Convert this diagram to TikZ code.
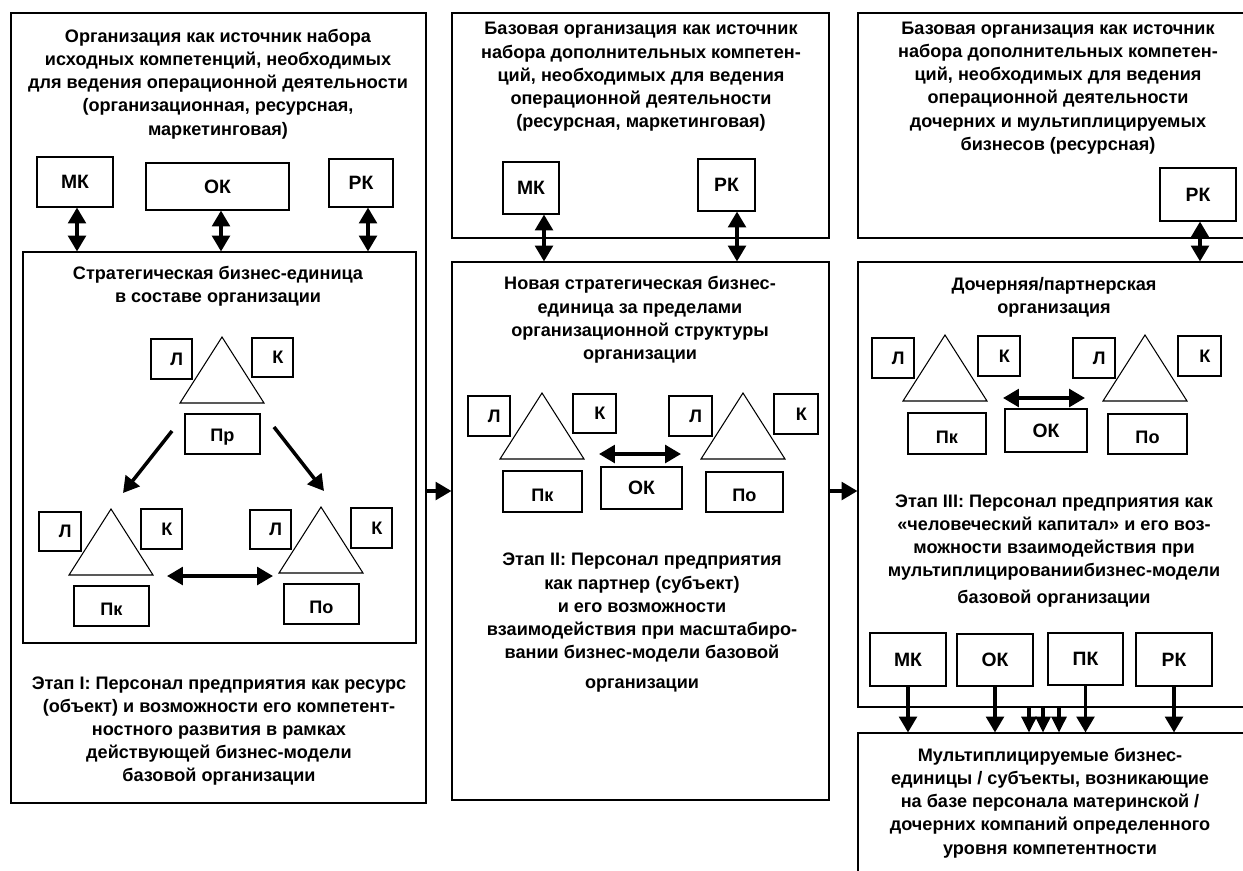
\documentclass[tikz,border=0pt]{standalone}
\usepackage{fontspec}
\setmainfont{Liberation Sans}
\usetikzlibrary{arrows.meta,fit}

\newcommand{\txt}{\bfseries\fontsize{10.3}{13.2}\selectfont}
\newcommand{\kfont}{\bfseries\fontsize{11}{13}\selectfont}

\tikzset{
  box/.style={draw, line width=0.6pt, inner sep=0pt},
  kbox/.style={box, label={[font=\kfont]center:#1}},
  sq/.style={box, label={[font=\txt, xshift=3pt]center:#1}},
  pbox/.style={box, label={[font=\txt, yshift=-2pt]center:#1}},
  lbl/.style={align=center, font=\txt, inner sep=0pt},
  tri/.style={line width=0.6pt},
  dbl/.style={{Triangle[width=10pt,length=9pt]}-{Triangle[width=10pt,length=9pt]}, line width=2pt},
  go/.style={-{Triangle[width=10pt,length=9pt]}, line width=2pt},
  gosm/.style={-{Triangle[width=8.5pt,length=9pt]}, line width=1.8pt},
}

\begin{document}
\begin{tikzpicture}[x=0.02cm, y=-0.02cm]
    \clip (0,0) rectangle (1243,870);
    \coordinate (lvl) at (0,491);

    % column 1
    \node[box, fit={(11,13) (426,803)}] (org) {};
    \node[lbl] (orgtxt) at (218,84) {Организация как источник набора\\исходных компетенций, необходимых\\для ведения операционной деятельности\\(организационная, ресурсная,\\маркетинговая)};
    \node[kbox=МК, fit={(37,157) (113,207)}] (mk1) {};
    \node[kbox=ОК, fit={(146,163) (289,210)}] (ok1) {};
    \node[kbox=РК, fit={(329,159) (393,207)}] (rk1) {};
    \node[box, fit={(23,252) (416,643)}] (sbu) {};
    \node[lbl] (sbutxt) at (218,286) {Стратегическая бизнес-единица\\в составе организации};
    \node[sq=Л, fit={(151,339) (192,379)}] (l1a) {};
    \node[sq=К, fit={(252,338) (293,377)}] (k1a) {};
    \node[pbox=Пр, fit={(185,414) (260,454)}] (p1a) {};
    \node[sq=Л, fit={(39,512) (81,551)}] (l1b) {};
    \node[sq=К, fit={(141,509) (182,549)}] (k1b) {};
    \node[pbox=Пк, fit={(74,586) (149,626)}] (p1b) {};
    \node[sq=Л, fit={(250,510) (291,549)}] (l1c) {};
    \node[sq=К, fit={(351,508) (392,548)}] (k1c) {};
    \node[pbox=По, fit={(284,584) (359,624)}] (p1c) {};
    \node[lbl] (st1) at (219,731) {Этап I: Персонал предприятия как ресурс\\(объект) и возможности его компетент-\\ностного развития в рамках\\действующей бизнес-модели\\базовой организации};

    % column 2
    \node[box, fit={(452,13) (829,238)}] (base2) {};
    \node[lbl] (base2txt) at (641,77) {Базовая организация как источник\\набора дополнительных компетен-\\ций, необходимых для ведения\\операционной деятельности\\(ресурсная, маркетинговая)};
    \node[kbox=МК, fit={(503,162) (559,214)}] (mk2) {};
    \node[kbox=РК, fit={(698,159) (755,211)}] (rk2) {};
    \node[box, fit={(452,262) (829,800)}] (nsbu) {};
    \node[lbl] (nsbutxt) at (640,320) {Новая стратегическая бизнес-\\единица за пределами\\организационной структуры\\организации};
    \node[sq=Л, fit={(468,396) (510,436)}] (l2a) {};
    \node[sq=К, fit={(573,394) (616,433)}] (k2a) {};
    \node[pbox=Пк, fit={(503,471) (582,512)}] (p2a) {};
    \node[kbox=ОК, fit={(601,467) (682,509)}] (ok2) {};
    \node[sq=Л, fit={(669,396) (712,436)}] (l2b) {};
    \node[sq=К, fit={(774,394) (818,434)}] (k2b) {};
    \node[pbox=По, fit={(706,472) (783,512)}] (p2b) {};
    \node[lbl] (st2) at (642,623) {Этап II: Персонал предприятия\\как партнер (субъект)\\и его возможности\\взаимодействия при масштабиро-\\вании бизнес-модели базовой\\[4pt]организации};

    % column 3
    \node[box, fit={(858,13) (1290,238)}] (base3) {};
    \node[lbl] (base3txt) at (1058,88) {Базовая организация как источник\\набора дополнительных компетен-\\ций, необходимых для ведения\\операционной деятельности\\дочерних и мультиплицируемых\\бизнесов (ресурсная)};
    \node[kbox=РК, fit={(1160,168) (1236,221)}] (rk3) {};
    \node[box, fit={(858,262) (1290,707)}] (dch) {};
    \node[lbl] (dchtxt) at (1054,297) {Дочерняя/партнерская\\организация};
    \node[sq=Л, fit={(872,338) (914,378)}] (l3a) {};
    \node[sq=К, fit={(978,336) (1020,376)}] (k3a) {};
    \node[pbox=Пк, fit={(908,413) (986,454)}] (p3a) {};
    \node[kbox=ОК, fit={(1005,409) (1087,452)}] (ok3) {};
    \node[sq=Л, fit={(1073,338) (1115,378)}] (l3b) {};
    \node[sq=К, fit={(1178,336) (1221,376)}] (k3b) {};
    \node[pbox=По, fit={(1108,414) (1187,454)}] (p3b) {};
    \node[lbl] (st3) at (1054,551) {Этап III: Персонал предприятия как\\«человеческий капитал» и его воз-\\можности взаимодействия при\\мультиплицированиибизнес-модели\\[2pt]базовой организации};
    \node[kbox=МК, fit={(870,633) (946,686)}] (mk4) {};
    \node[kbox=ОК, fit={(957,634) (1033,686)}] (ok4) {};
    \node[kbox=ПК, fit={(1048,633) (1123,685)}] (pk4) {};
    \node[kbox=РК, fit={(1136,633) (1212,686)}] (rk4) {};
    \node[box, fit={(858,733) (1290,900)}] (mult) {};
    \node[lbl] (multtxt) at (1050,803) {Мультиплицируемые бизнес-\\единицы / субъекты, возникающие\\на базе персонала материнской /\\дочерних компаний определенного\\уровня компетентности};

    % triangles
    \foreach \x/\y in {222/337, 111/509, 321/507, 542/393, 743/393, 945/335, 1145/335}
      \draw[tri] (\x,\y) -- ++(-42,66) -- ++(84,0) -- cycle;

    % arrows
    \draw[dbl] (77,0 |- mk1.south) -- (77,0 |- sbu.north);
    \draw[dbl] (221,0 |- ok1.south) -- (221,0 |- sbu.north);
    \draw[dbl] (368,0 |- rk1.south) -- (368,0 |- sbu.north);
    \draw[dbl] (544,0 |- mk2.south) -- (544,0 |- nsbu.north);
    \draw[dbl] (737,0 |- rk2.south) -- (737,0 |- nsbu.north);
    \draw[dbl] (1200,0 |- rk3.south) -- (1200,0 |- dch.north);
    \coordinate (a1) at (172,431);
    \coordinate (a2) at (123,493);
    \coordinate (b1) at (274,427);
    \coordinate (b2) at (324,491);
    \draw[go] (a1) -- (a2);
    \draw[go] (b1) -- (b2);
    \draw[dbl] (167,576) -- (273,576);
    \draw[dbl] (599,454) -- (681,454);
    \draw[dbl] (1003,398) -- (1085,398);
    \draw[go] (org.east |- lvl) -- (nsbu.west |- lvl);
    \draw[go] (nsbu.east |- lvl) -- (dch.west |- lvl);
    \foreach \b in {mk4, ok4, pk4, rk4}
      \draw[go] (\b.south) -- (\b.south |- mult.north);
    \foreach \x in {1029, 1043, 1059}
      \draw[gosm] (\x,0 |- dch.south) -- (\x,0 |- mult.north);
\end{tikzpicture}
\end{document}
